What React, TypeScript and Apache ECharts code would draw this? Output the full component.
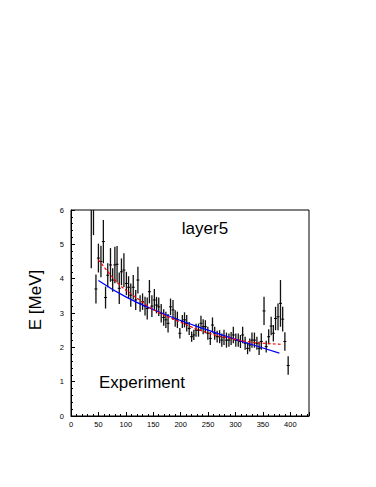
import React, { useEffect, useRef } from "react";
import * as echarts from "echarts";

const xValues = [37, 41, 45.5, 50, 54.6, 59, 63, 67, 72, 76, 80, 84, 88, 92, 96.5, 101, 105, 109, 113.5, 118, 122, 126, 130.5, 135, 139, 143, 147.5, 152, 156, 160, 164.5, 169, 173, 177, 181.5, 186, 190, 194, 198.5, 203, 207, 211, 215.5, 220, 224, 228, 232.5, 237, 241, 245, 249.5, 254, 258, 262, 266.5, 271, 275, 279, 283.5, 288, 292, 296, 300.5, 305, 309, 313, 317.5, 322, 326, 330, 334.5, 339, 343, 347, 352, 356, 360.5, 365, 369, 373, 377.5, 382, 386, 390, 396];
const yValues = [6.3, 6.12, 3.7, 4.6, 4.5, 5.08, 3.45, 4.1, 4.4, 3.96, 4.4, 4.42, 3.72, 4.2, 4.25, 3.86, 3.75, 3.52, 3.75, 3.38, 3.96, 3.28, 3.33, 3.2, 3.13, 3.62, 3.2, 3.38, 3.23, 3.18, 2.99, 2.87, 2.8, 2.7, 3.18, 3.09, 2.84, 2.8, 2.41, 2.75, 2.8, 2.7, 2.55, 2.31, 2.36, 2.5, 2.5, 2.7, 2.6, 2.6, 2.41, 2.26, 2.65, 2.41, 2.31, 2.31, 2.21, 2.29, 2.21, 2.21, 2.26, 2.36, 2.21, 2.21, 2.17, 2.36, 2.12, 1.97, 2.07, 2.21, 2.21, 2.12, 1.97, 2.17, 3.06, 2.02, 2.31, 2.62, 2.41, 2.84, 2.89, 3.28, 2.82, 2.17, 1.47];
const yErrors = [2.0, 0.85, 0.42, 0.42, 0.46, 0.63, 0.32, 0.35, 0.49, 0.34, 0.53, 0.53, 0.46, 0.39, 0.49, 0.34, 0.32, 0.34, 0.36, 0.29, 0.39, 0.24, 0.24, 0.27, 0.32, 0.34, 0.32, 0.32, 0.24, 0.27, 0.27, 0.24, 0.24, 0.27, 0.24, 0.29, 0.24, 0.24, 0.15, 0.19, 0.22, 0.24, 0.19, 0.15, 0.15, 0.19, 0.19, 0.22, 0.22, 0.19, 0.19, 0.19, 0.22, 0.19, 0.17, 0.19, 0.19, 0.22, 0.22, 0.19, 0.19, 0.24, 0.19, 0.19, 0.19, 0.24, 0.19, 0.17, 0.19, 0.22, 0.22, 0.19, 0.19, 0.24, 0.41, 0.17, 0.22, 0.27, 0.24, 0.34, 0.39, 0.68, 0.36, 0.27, 0.27];

const blueFitX = [50, 100, 150, 200, 250, 300, 350, 380];
const blueFitY = [3.95, 3.47, 3.1, 2.78, 2.5, 2.23, 1.98, 1.83];

const redFitX = [50, 70, 90, 110, 125, 150, 200, 250, 300, 320, 350, 383];
const redFitY = [4.55, 4.15, 3.8, 3.55, 3.38, 3.1, 2.73, 2.42, 2.23, 2.17, 2.12, 2.09];

const xTickStep = 50;
const yTickStep = 1;

const FONT = "'Liberation Sans', Arial, Helvetica, sans-serif";

export default function App() {
  const ref = useRef<HTMLDivElement>(null);
  useEffect(() => {
    if (!ref.current) return;
    const chart = echarts.init(ref.current, undefined, { renderer: "svg" });
    const points = xValues.map((x, i) => [x, yValues[i], yErrors[i]]);
    const axisCommon = {
      axisLine: { show: true, lineStyle: { color: "#000", width: 1 } },
      axisTick: { show: true, inside: true, length: 4, lineStyle: { color: "#000", width: 1 } },
      minorTick: { show: true, splitNumber: 5, length: 2, lineStyle: { color: "#000", width: 1 } },
      splitLine: { show: false },
      axisLabel: { color: "#000", fontSize: 7.5, fontFamily: FONT, showMaxLabel: false },
    };
    chart.setOption({
      animation: false,
      grid: { left: 71, top: 210, width: 238, height: 206, show: true, borderColor: "#000", borderWidth: 1, backgroundColor: "transparent" },
      xAxis: {
        type: "value",
        min: 0,
        max: 434,
        interval: xTickStep,
        ...axisCommon,
        axisLabel: { ...axisCommon.axisLabel, margin: 4 },
      },
      yAxis: {
        type: "value",
        min: 0,
        max: 6,
        interval: yTickStep,
        ...axisCommon,
        axisLabel: { ...axisCommon.axisLabel, margin: 7, showMaxLabel: true },
      },
      series: [
        {
          type: "custom",
          clip: true,
          encode: { x: 0, y: 1 },
          data: points,
          renderItem: (params: any, api: any) => {
            const x = api.value(0);
            const y = api.value(1);
            const e = api.value(2);
            const top = api.coord([x, y + e]);
            const bot = api.coord([x, y - e]);
            const c = api.coord([x, y]);
            return {
              type: "group",
              children: [
                { type: "line", shape: { x1: top[0], y1: top[1], x2: bot[0], y2: bot[1] }, style: { stroke: "#111", lineWidth: 1.3 } },
                { type: "line", shape: { x1: c[0] - 1.5, y1: c[1], x2: c[0] + 1.5, y2: c[1] }, style: { stroke: "#000", lineWidth: 1 } },
              ],
            };
          },
          z: 2,
        },
        {
          type: "line",
          data: blueFitX.map((x, i) => [x, blueFitY[i]]),
          smooth: true,
          showSymbol: false,
          lineStyle: { color: "#0000ff", width: 1.2 },
          z: 3,
        },
        {
          type: "line",
          data: redFitX.map((x, i) => [x, redFitY[i]]),
          smooth: true,
          showSymbol: false,
          lineStyle: { color: "#ff0000", width: 1.2, type: [3, 2] },
          z: 4,
        },
      ],
      graphic: [
        { type: "text", x: 205, y: 228, style: { text: "layer5", fontSize: 17, fontFamily: FONT, fill: "#000", textAlign: "center", textVerticalAlign: "middle" } },
        { type: "text", x: 99, y: 382, style: { text: "Experiment", fontSize: 17, fontFamily: FONT, fill: "#000", textAlign: "left", textVerticalAlign: "middle" } },
        { type: "text", x: 35, y: 300, rotation: Math.PI / 2, style: { text: "E [MeV]", fontSize: 17, fontFamily: FONT, fill: "#000", textAlign: "center", textVerticalAlign: "middle" } },
      ],
    });
    return () => chart.dispose();
  }, []);
  return <div ref={ref} style={{ position: "fixed", left: 0, top: 0, width: 376, height: 487, background: "#fff" }} />;
}
